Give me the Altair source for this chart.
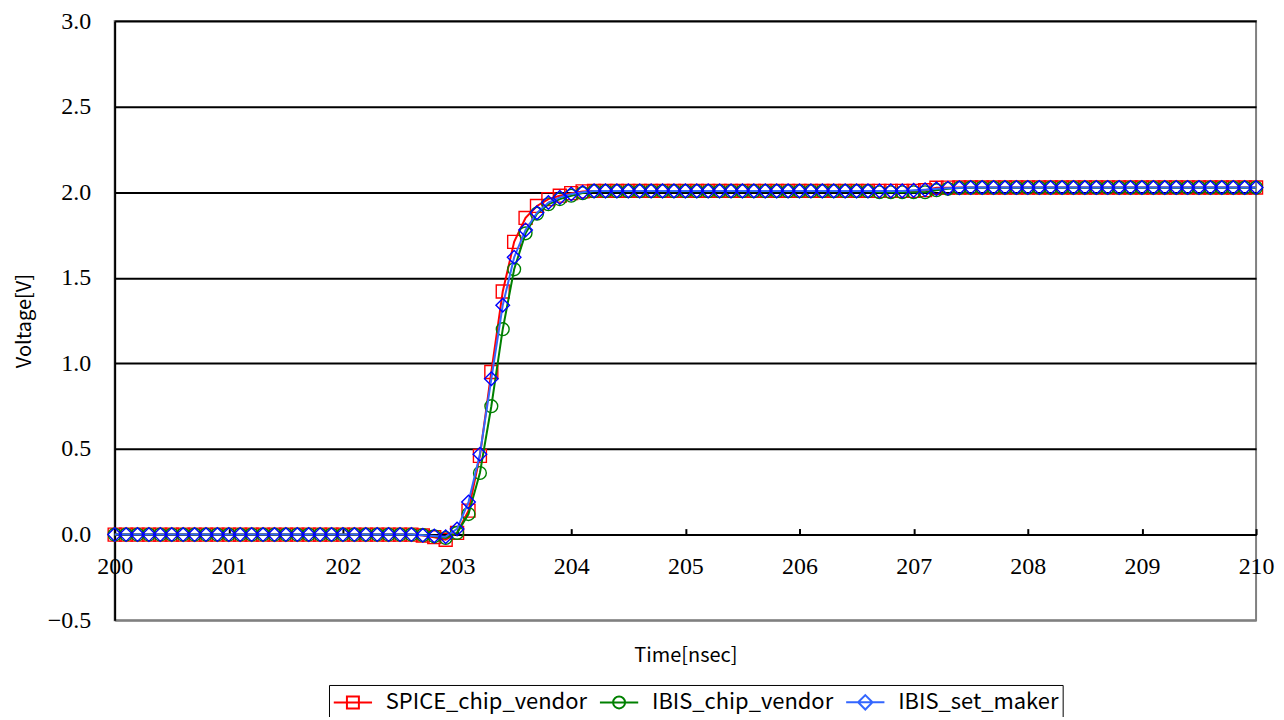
import altair as alt
import pandas as pd

# ---------------- data ----------------
time_ns = [
    200.0, 200.1, 200.2, 200.3, 200.4, 200.5, 200.6, 200.7, 200.8, 200.9,
    201.0, 201.1, 201.2, 201.3, 201.4, 201.5, 201.6, 201.7, 201.8, 201.9,
    202.0, 202.1, 202.2, 202.3, 202.4, 202.5, 202.6, 202.7, 202.8, 202.9,
    203.0, 203.1, 203.2, 203.3, 203.4, 203.5, 203.6, 203.7, 203.8, 203.9,
    204.0, 204.1, 204.2, 204.3, 204.4, 204.5, 204.6, 204.7, 204.8, 204.9,
    205.0, 205.1, 205.2, 205.3, 205.4, 205.5, 205.6, 205.7, 205.8, 205.9,
    206.0, 206.1, 206.2, 206.3, 206.4, 206.5, 206.6, 206.7, 206.8, 206.9,
    207.0, 207.1, 207.2, 207.3, 207.4, 207.5, 207.6, 207.7, 207.8, 207.9,
    208.0, 208.1, 208.2, 208.3, 208.4, 208.5, 208.6, 208.7, 208.8, 208.9,
    209.0, 209.1, 209.2, 209.3, 209.4, 209.5, 209.6, 209.7, 209.8, 209.9,
    210.0,
]

spice_chip_vendor = [
    0.0, 0.0, 0.0, 0.0, 0.0, 0.0, 0.0, 0.0, 0.0, 0.0,
    0.0, 0.0, 0.0, 0.0, 0.0, 0.0, 0.0, 0.0, 0.0, 0.0,
    0.0, 0.0, 0.0, 0.0, 0.0, 0.0, 0.0, -0.005, -0.015, -0.03,
    0.01, 0.14, 0.46, 0.95, 1.42, 1.71, 1.85, 1.92, 1.96, 1.98,
    1.995, 2.005, 2.008, 2.008, 2.008, 2.008, 2.008, 2.008, 2.008, 2.008,
    2.008, 2.008, 2.008, 2.008, 2.008, 2.008, 2.008, 2.008, 2.008, 2.008,
    2.008, 2.008, 2.008, 2.008, 2.008, 2.008, 2.008, 2.008, 2.008, 2.008,
    2.008, 2.012, 2.026, 2.027, 2.028, 2.028, 2.028, 2.028, 2.028, 2.028,
    2.028, 2.028, 2.028, 2.028, 2.028, 2.028, 2.028, 2.028, 2.028, 2.028,
    2.028, 2.028, 2.028, 2.028, 2.028, 2.028, 2.028, 2.028, 2.028, 2.028,
    2.028,
]

ibis_chip_vendor = [
    0.0, 0.0, 0.0, 0.0, 0.0, 0.0, 0.0, 0.0, 0.0, 0.0,
    0.0, 0.0, 0.0, 0.0, 0.0, 0.0, 0.0, 0.0, 0.0, 0.0,
    0.0, 0.0, 0.0, 0.0, 0.0, 0.0, 0.0, -0.003, -0.01, -0.02,
    0.01, 0.12, 0.36, 0.75, 1.2, 1.55, 1.76, 1.875, 1.93, 1.96,
    1.98, 1.995, 2.006, 2.006, 2.006, 2.006, 2.006, 2.006, 2.006, 2.006,
    2.006, 2.006, 2.006, 2.006, 2.006, 2.006, 2.006, 2.006, 2.006, 2.006,
    2.006, 2.006, 2.006, 2.006, 2.006, 2.006, 2.006, 2.0, 2.0, 2.0,
    2.0, 2.0, 2.012, 2.02, 2.025, 2.027, 2.027, 2.027, 2.027, 2.027,
    2.027, 2.027, 2.027, 2.027, 2.027, 2.027, 2.027, 2.027, 2.027, 2.027,
    2.027, 2.027, 2.027, 2.027, 2.027, 2.027, 2.027, 2.027, 2.027, 2.027,
    2.027,
]

ibis_set_maker = [
    0.0, 0.0, 0.0, 0.0, 0.0, 0.0, 0.0, 0.0, 0.0, 0.0,
    0.0, 0.0, 0.0, 0.0, 0.0, 0.0, 0.0, 0.0, 0.0, 0.0,
    0.0, 0.0, 0.0, 0.0, 0.0, 0.0, 0.0, -0.004, -0.008, -0.012,
    0.033, 0.19, 0.47, 0.91, 1.34, 1.62, 1.78, 1.88, 1.94, 1.97,
    1.99, 2.0, 2.008, 2.008, 2.008, 2.008, 2.008, 2.008, 2.008, 2.008,
    2.008, 2.008, 2.008, 2.008, 2.008, 2.008, 2.008, 2.008, 2.008, 2.008,
    2.008, 2.008, 2.008, 2.008, 2.008, 2.008, 2.008, 2.008, 2.008, 2.008,
    2.011, 2.015, 2.02, 2.024, 2.026, 2.028, 2.028, 2.028, 2.028, 2.028,
    2.028, 2.028, 2.028, 2.028, 2.028, 2.028, 2.028, 2.028, 2.028, 2.028,
    2.028, 2.028, 2.028, 2.028, 2.028, 2.028, 2.028, 2.028, 2.028, 2.028,
    2.028,
]

series_names = ["SPICE_chip_vendor", "IBIS_chip_vendor", "IBIS_set_maker"]
x_ticks = [200, 201, 202, 203, 204, 205, 206, 207, 208, 209, 210]
y_ticks = [-0.5, 0.0, 0.5, 1.0, 1.5, 2.0, 2.5, 3.0]

# ---------------- styling ----------------
RED = "#FF0000"
GREEN = "#008000"
BLUE_LINE = "#3366FF"
BLUE_MARK = "#0000FF"
NUM_FONT = "Liberation Serif"
TXT_FONT = "Noto Sans CJK JP"

PLOT_W = 1145
PLOT_H = 601
Y_MIN, Y_MAX = -0.5, 3.0
zero_from_bottom = PLOT_H * (0 - Y_MIN) / (Y_MAX - Y_MIN)
zero_from_top = PLOT_H - zero_from_bottom

rows = []
for name, vals in zip(series_names, [spice_chip_vendor, ibis_chip_vendor, ibis_set_maker]):
    for t, v in zip(time_ns, vals):
        rows.append({"time": t, "voltage": v, "series": name})
df = pd.DataFrame(rows)

xscale = alt.Scale(domain=[200, 210], nice=False, zero=False)
yscale = alt.Scale(domain=[Y_MIN, Y_MAX], nice=False, zero=False)

y_axis = alt.Axis(
    values=y_ticks, format=".1f", ticks=False,
    domainColor="black", domainWidth=2,
    grid=True, gridWidth=2,
    gridColor={"condition": {"test": "datum.value < 0", "value": "#808080"}, "value": "black"},
    labelFont=NUM_FONT, labelFontSize=24, labelColor="black", labelPadding=24,
    labelFlush=False, labelOverlap=False,
    title="Voltage[V]", titleFont=TXT_FONT, titleFontSize=20, titleFontWeight="normal",
    titleColor="black", titleX=-90, titleY=PLOT_H / 2, titleAngle=270,
    titleBaseline="middle", titleAlign="center",
)
y_enc = alt.Y("voltage:Q", scale=yscale, axis=y_axis)

x_bottom = alt.X(
    "time:Q", scale=xscale,
    axis=alt.Axis(
        orient="bottom", offset=-zero_from_bottom, values=x_ticks, format="d",
        ticks=False, domainColor="black", domainWidth=2, grid=False,
        labelFont=NUM_FONT, labelFontSize=24, labelColor="black", labelPadding=20,
        labelFlush=False, labelOverlap=False, labelBound=False,
        title="Time[nsec]", titleFont=TXT_FONT, titleFontSize=20, titleFontWeight="normal",
        titleColor="black", titleY=127, titleBaseline="alphabetic",
    ),
)
x_top = alt.X(
    "time:Q", scale=xscale,
    axis=alt.Axis(
        orient="top", offset=-zero_from_top, values=x_ticks, ticks=True, tickSize=6,
        tickWidth=2, tickColor="black", labels=False, domain=False, grid=False, title=None,
    ),
)
x_none = alt.X("time:Q", scale=xscale, axis=None)

base = alt.Chart(df)


def sel(name):
    return base.transform_filter(alt.datum.series == name)


red_line = sel(series_names[0]).mark_line(color=RED, strokeWidth=2).encode(x=x_bottom, y=y_enc)
red_pts = sel(series_names[0]).mark_point(
    shape="square", color=RED, size=169, strokeWidth=1.4, filled=False, opacity=1
).encode(x=x_top, y=y_enc)
green_line = sel(series_names[1]).mark_line(color=GREEN, strokeWidth=2).encode(x=x_none, y=y_enc)
green_pts = sel(series_names[1]).mark_point(
    shape="circle", color=GREEN, size=165, strokeWidth=1.4, filled=False, opacity=1
).encode(x=x_none, y=y_enc)
blue_line = sel(series_names[2]).mark_line(color=BLUE_LINE, strokeWidth=2).encode(x=x_none, y=y_enc)
blue_pts = sel(series_names[2]).mark_point(
    shape="diamond", color=BLUE_MARK, size=185, strokeWidth=1.4, filled=False, opacity=1
).encode(x=x_none, y=y_enc)

legend_paths = [
    "M-1.6,0H1.6M-0.5,-0.5H0.5V0.5H-0.5Z",
    "M-1.6,0H1.6M0.5,0A0.5,0.5 0 1 1 -0.5,0A0.5,0.5 0 1 1 0.5,0Z",
    "M-1.6,0H1.6M0,-0.6L0.6,0L0,0.6L-0.6,0Z",
]
legend_def = alt.Legend(
    title=None, orient="none", legendX=215, legendY=666, direction="horizontal", columns=3,
    symbolSize=576, symbolStrokeWidth=2, symbolOpacity=1, symbolOffset=7,
    labelOffset=20, columnPadding=8, padding=4, strokeColor="black",
    labelFont=TXT_FONT, labelFontSize=22, labelColor="black", labelLimit=400,
)
legend_layer = base.mark_point(opacity=0, filled=False).encode(
    x=x_none, y=y_enc,
    color=alt.Color("series:N", scale=alt.Scale(domain=series_names, range=[RED, GREEN, BLUE_LINE]),
                    legend=legend_def),
    shape=alt.Shape("series:N", scale=alt.Scale(domain=series_names, range=legend_paths),
                    legend=legend_def),
)

chart = (
    alt.layer(red_line, red_pts, green_line, green_pts, blue_line, blue_pts, legend_layer)
    .resolve_axis(x="independent")
    .properties(
        width=PLOT_W, height=PLOT_H,
        padding={"left": 107, "top": 12, "right": 20, "bottom": 96},
        autosize=alt.AutoSizeParams(type="none"),
        background="white",
    )
    .configure_view(stroke="#808080", strokeWidth=2)
)

chart.save("out.html", embed_options={"renderer": "svg", "actions": False})
